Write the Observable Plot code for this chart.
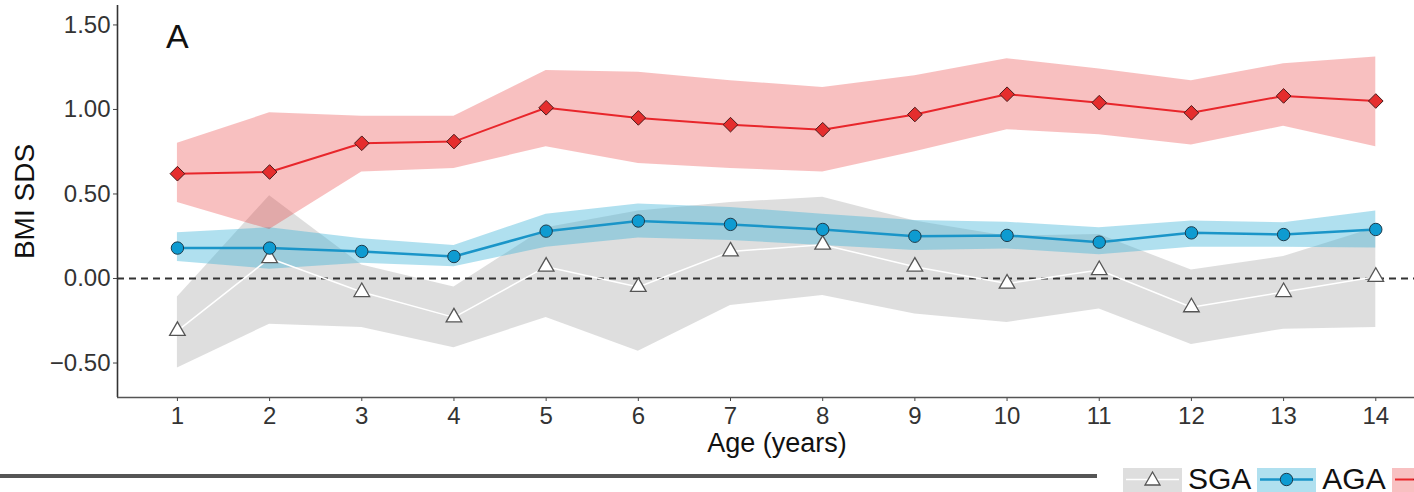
<!DOCTYPE html>
<html><head><meta charset="utf-8">
<script src="https://cdn.jsdelivr.net/npm/d3@7"></script>
<script src="https://cdn.jsdelivr.net/npm/@observablehq/plot@0.6"></script>
<style>
html,body{margin:0;padding:0;background:#fff;overflow:hidden;width:1414px;height:492px;}
#chart{position:relative;height:462px}
#footer{position:relative;height:30px;font-family:"Liberation Sans",Arial,sans-serif;}
#sep{position:absolute;left:0;top:12px;width:1097px;height:4px;background:#555;}
#legend{position:absolute;left:1123px;top:4px;display:flex;align-items:flex-start;white-space:nowrap;}
.sw{display:block;width:59px;height:24px;margin-top:2px;margin-right:6px}
.lab{font-size:30px;line-height:25px;height:25px;color:#111;margin-right:6px}
</style></head><body>
<div id="chart"></div>
<div id="footer"><div id="sep"></div><div id="legend"></div></div>
<script>
// ---- data ----
const ages = [1,2,3,4,5,6,7,8,9,10,11,12,13,14];

const sgaMean  = [-0.31, 0.12, -0.08, -0.23, 0.07, -0.05, 0.16, 0.20, 0.07, -0.03, 0.05, -0.17, -0.08, 0.01];
const sgaLower = [-0.53, -0.27, -0.29, -0.41, -0.23, -0.43, -0.16, -0.10, -0.21, -0.26, -0.18, -0.39, -0.30, -0.29];
const sgaUpper = [-0.11, 0.49, 0.08, -0.05, 0.30, 0.40, 0.45, 0.48, 0.34, 0.25, 0.26, 0.05, 0.13, 0.30];

const agaMean  = [0.18, 0.18, 0.16, 0.13, 0.28, 0.34, 0.32, 0.29, 0.25, 0.255, 0.215, 0.27, 0.26, 0.29];
const agaLower = [0.10, 0.055, 0.09, 0.07, 0.185, 0.24, 0.225, 0.195, 0.165, 0.175, 0.14, 0.185, 0.185, 0.18];
const agaUpper = [0.27, 0.30, 0.235, 0.195, 0.38, 0.44, 0.42, 0.38, 0.343, 0.333, 0.30, 0.34, 0.33, 0.40];

const lgaMean  = [0.62, 0.63, 0.80, 0.81, 1.01, 0.95, 0.91, 0.88, 0.97, 1.09, 1.04, 0.98, 1.08, 1.05];
const lgaLower = [0.45, 0.29, 0.63, 0.65, 0.78, 0.68, 0.65, 0.63, 0.75, 0.88, 0.85, 0.79, 0.90, 0.78];
const lgaUpper = [0.80, 0.98, 0.96, 0.96, 1.23, 1.22, 1.17, 1.13, 1.20, 1.30, 1.24, 1.17, 1.27, 1.31];

const groupNames = ["SGA", "AGA", "LGA"];
const yTicks = [-0.5, 0, 0.5, 1, 1.5];
const yDomain = [-0.704, 1.615];
const xDomain = [0.35, 14.42];
const panelLabel = [{label: "A", age: 1, sds: 1.426}];
const xTitle = ["Age (years)"];
const yTitle = ["BMI SDS"];

// ---- build tables ----
function rows(mean, lo, hi) {
  return ages.map((a, i) => ({age: a, mean: mean[i], lo: lo[i], hi: hi[i]}));
}
const sga = rows(sgaMean, sgaLower, sgaUpper);
const aga = rows(agaMean, agaLower, agaUpper);
const lga = rows(lgaMean, lgaLower, lgaUpper);

const fmt = d => (d < 0 ? "\u2212" : "") + Math.abs(d).toFixed(2);

const plot = Plot.plot({
  width: 1414, height: 462,
  marginLeft: 117, marginRight: 0, marginTop: 5, marginBottom: 65,
  style: {fontFamily: "Liberation Sans, Arial, sans-serif", fontSize: "24px", color: "#333", background: "#fff", overflow: "visible"},
  x: {domain: xDomain, label: null},
  y: {domain: yDomain, label: null},
  marks: [
    Plot.areaY(sga, {x: "age", y1: "lo", y2: "hi", fill: "#acacac", fillOpacity: 0.4}),
    Plot.areaY(aga, {x: "age", y1: "lo", y2: "hi", fill: "#39b1d7", fillOpacity: 0.4}),
    Plot.areaY(lga, {x: "age", y1: "lo", y2: "hi", fill: "#e72d30", fillOpacity: 0.3}),
    Plot.ruleY([0], {stroke: "#333", strokeWidth: 1.8, strokeDasharray: "7,5"}),
    Plot.lineY(sga, {x: "age", y: "mean", stroke: "#fff", strokeWidth: 1.5}),
    Plot.lineY(aga, {x: "age", y: "mean", stroke: "#1a95c8", strokeWidth: 2.5}),
    Plot.lineY(lga, {x: "age", y: "mean", stroke: "#e8262b", strokeWidth: 2}),
    Plot.dot(sga, {x: "age", y: "mean", symbol: "triangle", r: 5.8, fill: "#fff", stroke: "#555", strokeWidth: 1.3}),
    Plot.dot(aga, {x: "age", y: "mean", symbol: "circle", r: 6.2, fill: "#0e9bd1", stroke: "#1d3c4c", strokeWidth: 1}),
    Plot.dot(lga, {x: "age", y: "mean", symbol: "diamond2", r: 6.6, fill: "#e52d2d", stroke: "#4a1a1a", strokeWidth: 1}),
    Plot.axisY({ticks: yTicks, tickSize: 4, tickPadding: 3, tickFormat: fmt, label: null, stroke: "#444", fill: "#333"}),
    Plot.axisX({ticks: ages, tickSize: 4, tickPadding: 5, label: null, stroke: "#444", fill: "#333"}),
    Plot.ruleX([xDomain[0]], {stroke: "#333", strokeWidth: 1.6}),
    Plot.ruleY([yDomain[0]], {stroke: "#555", strokeWidth: 1.6}),
    Plot.text(panelLabel, {x: "age", y: "sds", text: "label", fontSize: 34, fill: "#111"}),
    Plot.text(xTitle, {text: d => d, frameAnchor: "bottom", textAnchor: "middle", lineAnchor: "middle", dx: 11, dy: 46, fontSize: 27, fill: "#111"}),
    Plot.text(yTitle, {text: d => d, frameAnchor: "left", textAnchor: "middle", lineAnchor: "middle", rotate: -90, dx: -92, dy: 0, fontSize: 28, fill: "#111"})
  ]
});
document.getElementById("chart").appendChild(plot);

// ---- legend ----
const legendStyles = {
  SGA: {bg: "#dedede", line: "#ffffff", lw: 1.5, marker: '<path d="M29.5,4 L37,17 L22,17 Z" fill="#fff" stroke="#555" stroke-width="1.3"/>'},
  AGA: {bg: "#b0e0ef", line: "#1a95c8", lw: 2.5, marker: '<circle cx="29.5" cy="11.5" r="6.2" fill="#0e9bd1" stroke="#1d3c4c" stroke-width="1"/>'},
  LGA: {bg: "#f8c0c1", line: "#e8262b", lw: 2, marker: '<path d="M29.5,4 L37,11.5 L29.5,19 L22,11.5 Z" fill="#e52d2d" stroke="#4a1a1a" stroke-width="1"/>'}
};
const legend = document.getElementById("legend");
groupNames.forEach(g => {
  const s = legendStyles[g];
  const sw = document.createElementNS("http://www.w3.org/2000/svg", "svg");
  sw.setAttribute("class", "sw");
  sw.setAttribute("width", 59); sw.setAttribute("height", 24);
  sw.innerHTML = `<rect width="59" height="24" fill="${s.bg}"/><line x1="3" x2="56" y1="11.5" y2="11.5" stroke="${s.line}" stroke-width="${s.lw}"/>${s.marker}`;
  legend.appendChild(sw);
  const t = document.createElement("span");
  t.className = "lab"; t.textContent = g;
  legend.appendChild(t);
});
</script>
</body></html>
